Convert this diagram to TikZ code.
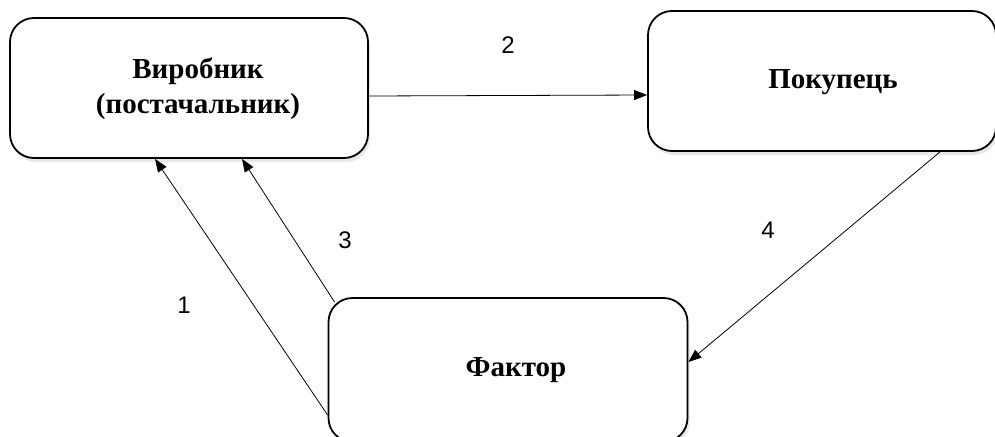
\documentclass[tikz,border=0pt]{standalone}
\usepackage{fontspec}
\setmainfont{Liberation Serif}
\newfontfamily\numfont{Liberation Sans}
\usetikzlibrary{arrows.meta,shadows}

\tikzset{
  party/.style={draw=black, line width=1.8pt, fill=white, rectangle,
    rounded corners=24pt, inner sep=0pt,
    drop shadow={shadow xshift=2pt, shadow yshift=-4pt, opacity=0.18}},
  caption/.style={font=\fontsize{29}{35}\selectfont\bfseries, align=center, inner sep=0pt},
  flow/.style={draw=black, line width=0.8pt, -{Triangle[length=13pt,width=10pt]}},
  num/.style={font=\numfont\fontsize{24}{28}\selectfont, inner sep=0pt}
}

\begin{document}
\begin{tikzpicture}[x=1pt, y=-1pt]
  \useasboundingbox (0,0) rectangle (995,436);
  \clip (0,0) rectangle (995,436);

  % parties of the factoring scheme
  \node[party, minimum width=358pt, minimum height=140pt] (maker) at (189,88) {};
  \node[party, minimum width=348pt, minimum height=140pt] (buyer) at (822,81) {};
  \node[party, minimum width=359pt, minimum height=144pt] (factor) at (508,370) {};

  \node[caption] (makertext) at (198,89) {Виробник\\(постачальник)};
  \node[caption] (buyertext) at (833,82) {Покупець};
  \node[caption] (factortext) at (516,370) {Фактор};

  % flows between the parties
  \draw[flow] ([yshift=-8pt]maker.east) -- ([yshift=-14pt]buyer.west);
  \draw[flow] ([yshift=-45pt]factor.west) -- ([xshift=-34pt]maker.south);
  \draw[flow] ([shift={(7pt,-5pt)}]factor.north west) -- ([xshift=53pt]maker.south);
  \draw[flow] ([xshift=118pt]buyer.south) -- ([yshift=8pt]factor.east);

  % step numbers
  \node[num] (n1) at (184,305) {1};
  \node[num] (n2) at (508,45) {2};
  \node[num] (n3) at (345,240) {3};
  \node[num] (n4) at (768,230) {4};
\end{tikzpicture}
\end{document}
